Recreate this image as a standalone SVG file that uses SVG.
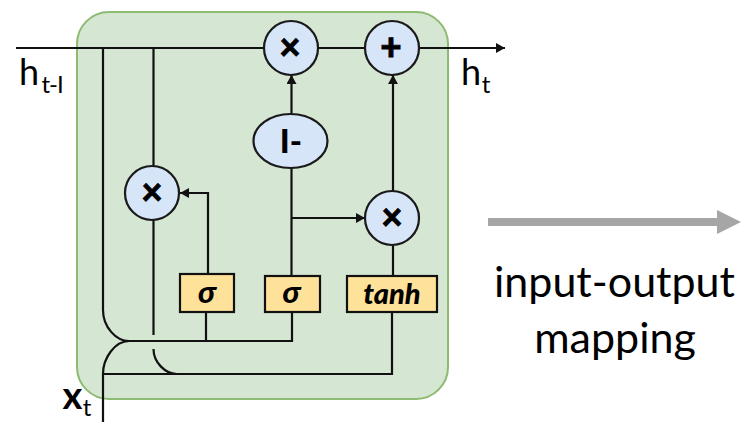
<svg xmlns="http://www.w3.org/2000/svg" width="744" height="426" viewBox="0 0 744 426">
<style>
.l{fill:none;stroke:#111;stroke-width:2.2}
.c{fill:#d7e5f8;stroke:#1a1a1a;stroke-width:2.2}
.b{fill:#ffe299;stroke:#111;stroke-width:2.2}
.t{font-family:Lato,"Open Sans",sans-serif;fill:#000;text-anchor:middle}
.op{font-size:37px;font-weight:900;stroke:#000;stroke-width:.8}
.s{font-family:Lato,"Open Sans",sans-serif;font-style:italic;font-weight:900;font-size:29px;fill:#000;text-anchor:middle}
.h{font-size:36px}
.sub{font-size:24px}
</style>
<defs>
<marker id="a" markerUnits="userSpaceOnUse" markerWidth="10" markerHeight="10" refX="9" refY="5" orient="auto"><path d="M0 0L9 5L0 10Z" fill="#111"/></marker>
</defs>
<g id="cell"><rect x="77" y="12" width="371" height="387" rx="32" fill="#d5e6d3" stroke="#8dbb72" stroke-width="2"/></g>
<g id="connectors">
<path class="l" d="M16 48H264M318 48H365"/>
<path class="l" d="M419 48H505" marker-end="url(#a)"/>
<path class="l" d="M103 48V310C103 327 116 341 129 341H292V312"/>
<path class="l" d="M153.500 48V167"/>
<path class="l" d="M153.500 219V335"/>
<path class="l" d="M153.500 349C153.500 362 165 374 177 374"/>
<path class="l" d="M103 422V374C103 358 115 341 129 341"/>
<path class="l" d="M103 374H392V312"/>
<path class="l" d="M206 341V312"/>
<path class="l" d="M208 274V193H180" marker-end="url(#a)"/>
<path class="l" d="M291.500 276V168"/>
<path class="l" d="M291.500 114V75" marker-end="url(#a)"/>
<path class="l" d="M291.500 218H365" marker-end="url(#a)"/>
<path class="l" d="M393 191V75" marker-end="url(#a)"/>
<path class="l" d="M393 245V276"/>
</g>
<g id="mul1"><circle class="c" cx="291" cy="48" r="27"/><text class="t op" x="290" y="60">×</text></g>
<g id="add"><circle class="c" cx="392" cy="48" r="27"/><text class="t op" x="391" y="60">+</text></g>
<g id="mul2"><circle class="c" cx="152" cy="193" r="27"/><text class="t op" x="152" y="205">×</text></g>
<g id="mul3"><circle class="c" cx="392" cy="218" r="27"/><text class="t op" x="392" y="230">×</text></g>
<g id="one-minus"><ellipse class="c" cx="290.500" cy="141" rx="37" ry="27"/><text class="t op" style="font-size:33px;stroke-width:0" x="291" y="153">I-</text></g>
<g id="sigma1"><rect class="b" x="180" y="274" width="54" height="38"/><text class="s" style="font-size:31px" x="207" y="303">σ</text></g>
<g id="sigma2"><rect class="b" x="265" y="276" width="55" height="36"/><text class="s" style="font-size:31px" x="291.500" y="303">σ</text></g>
<g id="tanh"><rect class="b" x="347" y="276" width="90" height="36"/><text class="s" x="392" y="304">tanh</text></g>
<g id="labels">
<text class="t h" x="29" y="85">h</text>
<text class="t sub" x="52" y="93" letter-spacing="-1">t-I</text>
<text class="t h" x="471" y="85">h</text>
<text class="t sub" x="486" y="93">t</text>
<text class="t h" x="72.500" y="409" font-weight="700" style="font-size:38px">x</text>
<text class="t sub" x="87" y="416">t</text>
</g>
<g id="mapping">
<path d="M488 222H718" fill="none" stroke="#a6a6a6" stroke-width="8"/>
<path d="M717 210L741 222L717 234Z" fill="#a6a6a6"/>
<text class="t" font-size="43" x="614.500" y="297">input-output</text>
<text class="t" font-size="43" x="615" y="353">mapping</text>
</g>
</svg>
